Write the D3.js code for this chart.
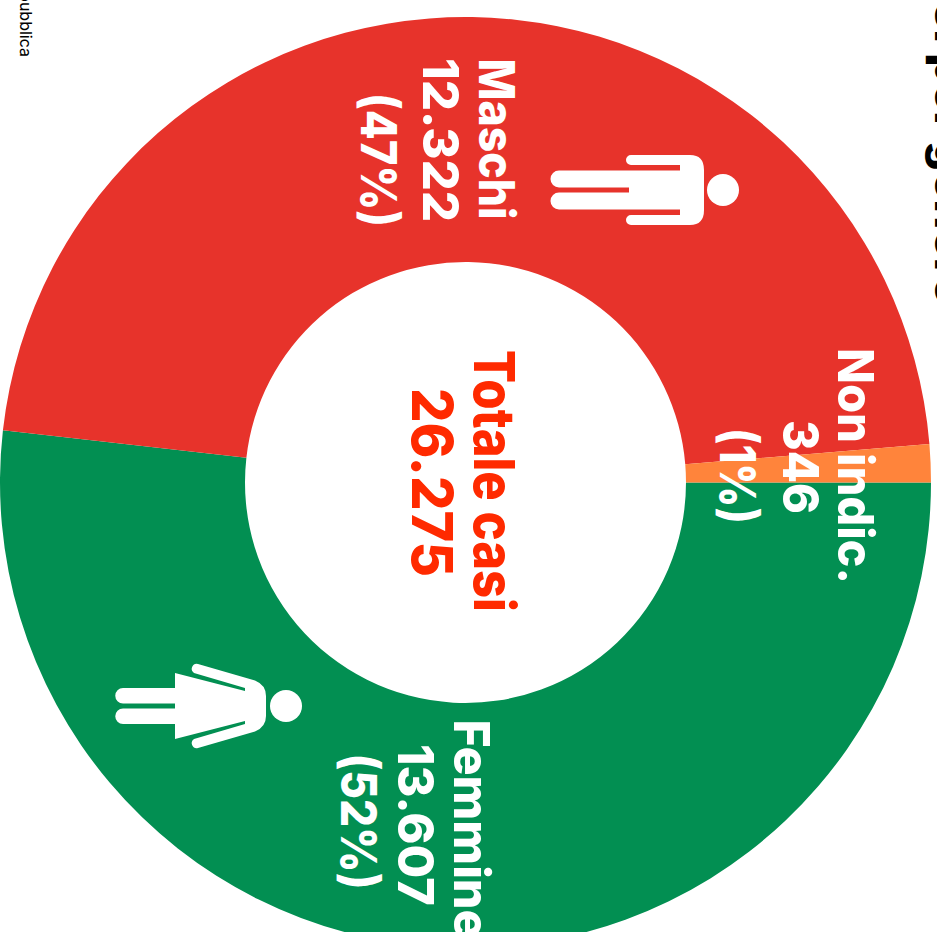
<!DOCTYPE html>
<html>
<head>
<meta charset="utf-8">
<script src="https://cdn.jsdelivr.net/npm/d3@7"></script>
<style>
  html, body { margin: 0; padding: 0; background: #fff; overflow: hidden; }
  text { font-family: "Inter", sans-serif; font-weight: 800; }
</style>
</head>
<body>
<svg width="937" height="932"></svg>
<script>
const categories = ["Femmine", "Maschi", "Non indic."];
const values = [13607, 12322, 346];
const colors = ["#028f52", "#e7332b", "#ff843b"];
const totalLabel = "Totale casi";
const titleText = "Casi per genere";
const sourceText = "Fonte: la Repubblica";

const width = 937, height = 932;
const cx = 465.5, cy = 482.5, rOuter = 465.5, rInner = 220.5;

const svg = d3.select("svg");
const it = d3.formatLocale({decimal: ",", thousands: ".", grouping: [3], currency: ["", "€"]});
const num = it.format(",d");
const total = d3.sum(values);

// the whole chart is turned a quarter clockwise, so the pie starts at 3 o'clock
const pie = d3.pie().sort(null).startAngle(Math.PI / 2).endAngle(Math.PI * 2.5);
const arc = d3.arc().innerRadius(rInner).outerRadius(rOuter);

const chart = svg.append("g").attr("transform", `translate(${cx},${cy})`);
chart.selectAll("path")
  .data(pie(values))
  .join("path")
    .attr("d", arc)
    .attr("fill", (d, i) => colors[i]);

// label placement: three rotated lines per slice [baseline x, centre y, ink length]
const labelPlace = [
  [[454, 829, 219], [398, 825, 162], [341, 821.5, 136]],
  [[479, 139, 161], [423, 140, 164], [361, 160, 134]],
  [[838, 466, 236], [783, 467, 94], [720, 476, 96]]
];

function rotText(g, x, y, str, size, len, fill) {
  g.append("text")
    .attr("transform", `translate(${x},${y}) rotate(90)`)
    .attr("text-anchor", "middle")
    .attr("font-size", size)
    .attr("fill", fill)
    .attr("textLength", len)
    .attr("lengthAdjust", "spacingAndGlyphs")
    .text(str);
}

const labels = svg.append("g");
categories.forEach((c, i) => {
  const lines = [c, num(values[i]), `(${Math.round(values[i] / total * 100)}%)`];
  lines.forEach((s, j) => {
    const p = labelPlace[i][j];
    rotText(labels, p[0], p[1], s, 50, p[2], "#fff");
  });
});

rotText(labels, 474, 481, totalLabel, 56, 262, "#ff2a00");
rotText(labels, 412, 482.5, num(total), 56, 189, "#ff2a00");

// title and source run off the page edges
svg.append("text")
  .attr("transform", "translate(935.3,60) rotate(90)")
  .attr("font-size", 47)
  .attr("fill", "#000")
  .attr("dx", -120)
  .text(titleText);

svg.append("text")
  .attr("transform", "translate(20,57) rotate(90)")
  .attr("text-anchor", "end")
  .attr("font-size", 16)
  .style("font-weight", 400)
  .attr("fill", "#000")
  .text(sourceText);

// pictograms, drawn lying down, origin at the centre of the head
const man = svg.append("g").attr("transform", "translate(723,190)").attr("fill", "#fff");
man.append("circle").attr("r", 16);
man.append("path").attr("d",
  "M-33,-35 H-92 A5,5 0 0 0 -92,-25 H-43 V-19.5 H-164 A8.5,8.5 0 0 0 -164,-2.5 H-94 V2.5 H-164 A8.5,8.5 0 0 0 -164,19.5 H-43 V25 H-92 A5,5 0 0 0 -92,35 H-33 Q-19,35 -19,20 V-20 Q-19,-35 -33,-35 Z");

const woman = svg.append("g").attr("transform", "translate(286,706)").attr("fill", "#fff");
woman.append("circle").attr("r", 16);
woman.append("path").attr("d",
  "M-31,-25.5 L-88,-42 A5,5 0 0 0 -92,-33 L-41,-18 V-15 L-111,-33 V-18 H-163 A7.75,7.75 0 0 0 -163,-2.5 H-111 V2.5 H-163 A7.75,7.75 0 0 0 -163,18 H-111 V33 L-41,15 V18 L-92,33 A5,5 0 0 0 -88,42 L-31,25.5 Q-20,21 -20,10 V-10 Q-20,-21 -31,-25.5 Z");
</script>
</body>
</html>
